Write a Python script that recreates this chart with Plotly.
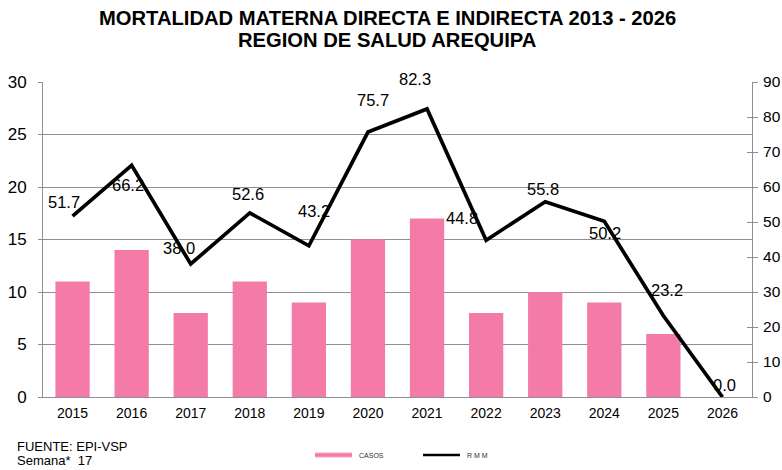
import plotly.graph_objects as go

years = ["2015", "2016", "2017", "2018", "2019", "2020", "2021", "2022", "2023", "2024", "2025", "2026"]
casos = [11, 14, 8, 11, 9, 15, 17, 8, 10, 9, 6, 0]
rmm = [51.7, 66.2, 38.0, 52.6, 43.2, 75.7, 82.3, 44.8, 55.8, 50.2, 23.2, 0.0]

# label offsets (px) for the RMM data labels: (xshift, yshift up)
label_offsets = [(-9, 14), (-4, -20), (-12, 16), (-2, 19), (5, 35), (5, 32),
                 (-12, 30), (-24, 22), (-2, 13), (1, -12), (4, 26), (2, 12)]

FONT = "Liberation Sans"
GRID = "#8f8f8f"

W, H = 782, 470
L, R, T, B = 43, 30, 82, 73
pw, ph = W - L - R, H - T - B


def px2paper(x, y):
    return (x - L) / pw, (H - B - y) / ph


fig = go.Figure()
fig.add_trace(go.Bar(
    x=years, y=casos, name="CASOS", width=0.58,
    marker=dict(color="#F47AA8", line=dict(color="#F3AABF", width=0)),
    xaxis="x", yaxis="y", showlegend=False,
))
fig.add_trace(go.Scatter(
    x=years, y=rmm, name="R M M", mode="lines",
    line=dict(color="black", width=3.7),
    xaxis="x", yaxis="y2", showlegend=False,
))
# invisible copy that carries the inner half of the right-axis cross ticks
fig.add_trace(go.Scatter(
    x=years, y=rmm, mode="lines", line=dict(color="rgba(0,0,0,0)", width=0),
    xaxis="x", yaxis="y3", showlegend=False, hoverinfo="skip",
))

annotations = []
for i, (v, (dx, dy)) in enumerate(zip(rmm, label_offsets)):
    annotations.append(dict(
        x=i, y=v, xref="x", yref="y2", text=f"{v:.1f}", showarrow=False,
        xshift=dx, yshift=dy, font=dict(family=FONT, size=16.5, color="black"),
    ))

def pa(text, x, y, size, xanchor="left", color="black"):
    px, py = px2paper(x, y)
    return dict(text=text, x=px, y=py, xref="paper", yref="paper", showarrow=False,
                xanchor=xanchor, yanchor="middle", font=dict(family=FONT, size=size, color=color))

annotations += [
    pa("<b>MORTALIDAD MATERNA DIRECTA E INDIRECTA 2013 - 2026</b>", 387, 18, 20.2, xanchor="center"),
    pa("<b>REGION DE SALUD AREQUIPA</b>", 387, 40, 20.2, xanchor="center"),
    pa("FUENTE: EPI-VSP", 15, 447, 13),
    pa("Semana*  17", 15, 460, 13),
    pa("CASOS", 357, 455, 7, color="#333"),
    pa("R M M", 465, 455, 7, color="#333"),
]

shapes = []
x0, y0 = px2paper(315, 455); x1, _ = px2paper(352, 455)
shapes.append(dict(type="line", xref="paper", yref="paper", x0=x0, x1=x1, y0=y0, y1=y0,
                   line=dict(color="#F3AABF", width=5)))
shapes.append(dict(type="line", xref="paper", yref="paper", x0=x0, x1=x1, y0=y0, y1=y0,
                   line=dict(color="#F47AA8", width=3)))
x0, y0 = px2paper(423, 455); x1, _ = px2paper(460, 455)
shapes.append(dict(type="line", xref="paper", yref="paper", x0=x0, x1=x1, y0=y0, y1=y0,
                   line=dict(color="black", width=2.5)))

fig.update_layout(
    width=W, height=H,
    margin=dict(l=L, r=R, t=T, b=B, autoexpand=False),
    paper_bgcolor="white", plot_bgcolor="white",
    xaxis=dict(type="category", categoryorder="array", categoryarray=years,
               range=[-0.5, len(years) - 0.5], automargin=False,
               showline=True, linecolor=GRID, linewidth=1, ticklabelstandoff=3,
               ticks="", showgrid=False, tickfont=dict(family=FONT, size=14, color="black")),
    yaxis=dict(range=[0, 30], dtick=5, showline=True, linecolor=GRID, linewidth=1,
               showgrid=True, gridcolor=GRID, gridwidth=1, zeroline=False, automargin=False,
               ticks="outside", ticklen=4, tickcolor=GRID, ticklabelstandoff=8,
               tickfont=dict(family=FONT, size=17, color="black")),
    yaxis2=dict(range=[0, 90], dtick=10, overlaying="y", side="right", anchor="x", showline=True,
                linecolor=GRID, linewidth=1, showgrid=False, zeroline=False, automargin=False,
                ticks="outside", ticklen=5, tickcolor=GRID, ticklabelstandoff=2,
                tickfont=dict(family=FONT, size=15.5, color="black")),
    yaxis3=dict(range=[0, 90], dtick=10, overlaying="y", side="right", anchor="x",
                showline=False, showgrid=False, zeroline=False, showticklabels=False,
                automargin=False, ticks="inside", ticklen=5, tickcolor=GRID),
    annotations=annotations,
    shapes=shapes,
    showlegend=False,
)

fig.write_html("out.html", config={"displayModeBar": False},
               post_script="document.body.style.margin='0px';")
